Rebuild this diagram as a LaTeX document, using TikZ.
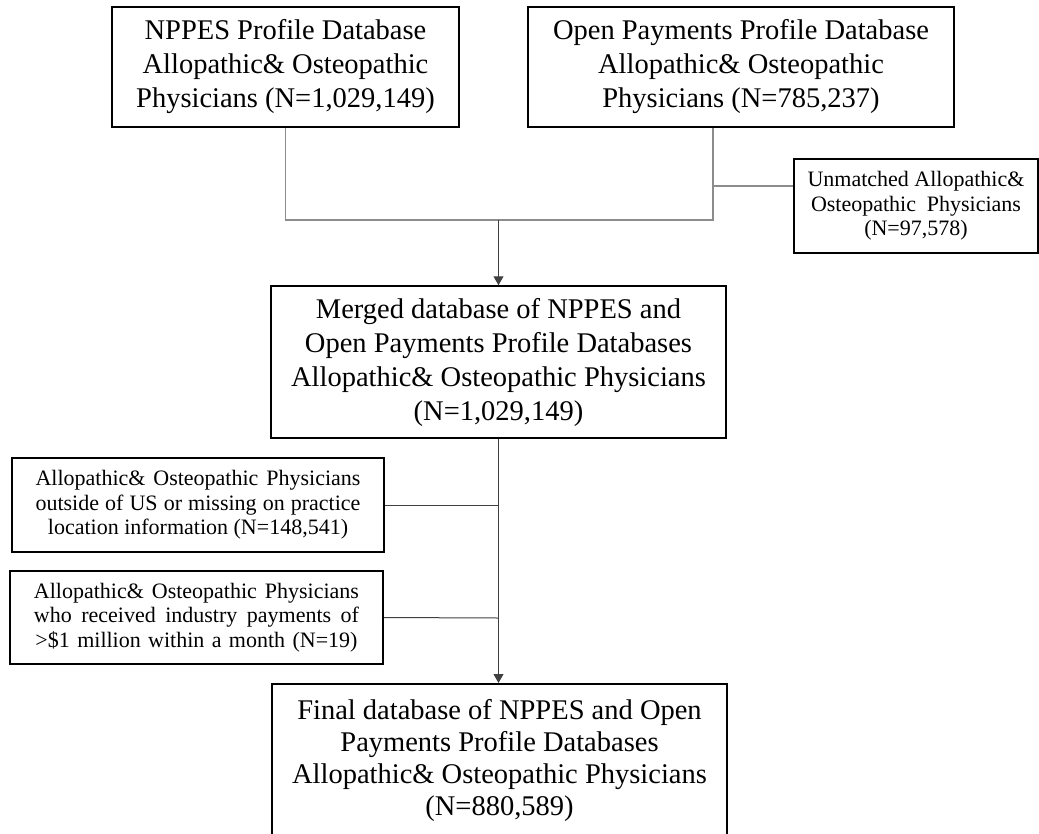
\documentclass[tikz,border=0pt]{standalone}
\usepackage{fontspec}
\setmainfont{Liberation Serif}
\usetikzlibrary{arrows.meta}
\newcommand{\jline}[2]{\makebox[#1][s]{#2}}
\begin{document}
\begin{tikzpicture}[x=1pt,y=-1pt,
  bigbox/.style={draw=black, line width=1.5pt, align=center, inner sep=0pt, font=\fontsize{28.5}{34}\selectfont},
  smallbox/.style={draw=black, line width=1.5pt, align=center, inner sep=0pt, font=\fontsize{22}{24.5}\selectfont},
  lightline/.style={draw=black!45, line width=1.2pt},
  darkline/.style={draw=black!75, line width=1pt},
  arr/.style={darkline, -{Triangle[width=10pt,length=9pt]}}
]
\useasboundingbox (0,0) rectangle (1039,833);
% top boxes
\node[bigbox, minimum width=347pt, minimum height=120pt] (nppes) at (285.5,67)
  {NPPES Profile Database\\Allopathic\& Osteopathic\\Physicians (N=1,029,149)};
\node[bigbox, minimum width=426pt, minimum height=120pt] (op) at (741,67)
  {Open Payments Profile Database\\Allopathic\& Osteopathic\\Physicians (N=785,237)};
\node[smallbox, minimum width=244pt, minimum height=94pt] (unm) at (916,206)
  {Unmatched Allopathic\&\\\jline{210pt}{Osteopathic Physicians}\\(N=97,578)};
% merged
\node[bigbox, minimum width=455pt, minimum height=152pt] (merged) at (498.5,362)
  {Merged database of NPPES and\\Open Payments Profile Databases\\Allopathic\& Osteopathic Physicians\\(N=1,029,149)};
% exclusions
\node[smallbox, minimum width=372pt, minimum height=94pt] (ex1) at (198,505)
  {\jline{325pt}{Allopathic\& Osteopathic Physicians}\\\jline{325pt}{outside of US or missing on practice}\\location information (N=148,541)};
\node[smallbox, minimum width=373pt, minimum height=93pt] (ex2) at (196.5,617.5)
  {\jline{325pt}{Allopathic\& Osteopathic Physicians}\\\jline{325pt}{who received industry payments of}\\\jline{322pt}{>\$1 million within a month (N=19)}};
% final
\node[bigbox, minimum width=455pt, inner ysep=16pt, anchor=north, font=\fontsize{28.5}{32}\selectfont] (final) at (499.5,683)
  {Final database of NPPES and Open\\Payments Profile Databases\\Allopathic\& Osteopathic Physicians\\(N=880,589)\rule[-60pt]{0pt}{1pt}};
% connectors
\coordinate (jL) at (285.5,220);
\coordinate (jR) at (713,220);
\coordinate (jM) at (498.5,220);
\coordinate (b1) at (713,186);
\coordinate (k1) at (498.5,505);
\coordinate (k2) at (498.5,618);
\draw[lightline] (nppes.south) -- (jL) -- (jR) -- (op.south -| jR);
\draw[lightline] (b1) -- (b1 -| unm.west);
\draw[arr] (jM) -- (merged.north);
\draw[darkline] (ex1.east) -- (k1);
\draw[darkline] (ex2.east) -- (k2);
\draw[arr] (merged.south) -- (merged.south |- final.north);
\end{tikzpicture}
\end{document}
